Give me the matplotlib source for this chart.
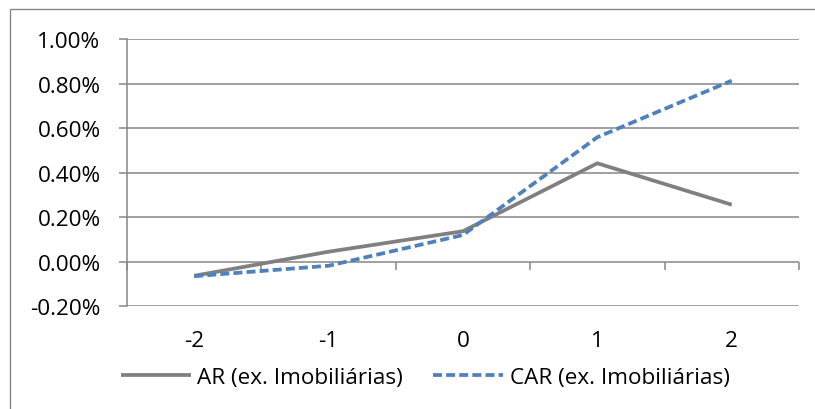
import matplotlib.pyplot as plt
from matplotlib.patches import Rectangle
from matplotlib.ticker import FuncFormatter

# event window (days) and abnormal returns in percent
days = ['-2', '-1', '0', '1', '2']
ar = [-0.063, 0.045, 0.137, 0.442, 0.256]
car = [-0.065, -0.018, 0.120, 0.559, 0.813]
yticks = [-0.2, 0.0, 0.2, 0.4, 0.6, 0.8, 1.0]

grid_color = '#868686'
plt.rcParams['font.family'] = ['Open Sans', 'DejaVu Sans']
font_size = 16.2

fig = plt.figure(figsize=(8.15, 4.1), dpi=100)
ax = fig.add_axes([0.1558, 0.2505, 0.8245, 0.652])

# outer chart frame
fig.patches.append(Rectangle((10, -20), 900, 420, transform=None,
                             fill=False, edgecolor=grid_color, linewidth=1.0))

x = range(len(days))
ax.plot(x, ar, color='#808080', linewidth=2.7, solid_capstyle='butt',
        label='AR (ex. Imobiliárias)')
ax.plot(x, car, color='#4F81BD', linewidth=2.7, linestyle=(0, (2.4, 1.1)),
        dash_capstyle='butt', label='CAR (ex. Imobiliárias)')

ax.set_xlim(-0.5, len(days) - 0.5)
ax.set_ylim(-0.2, 1.0)

for y in yticks:
    ax.axhline(y, color=grid_color, linewidth=1.1, zorder=0)

for side in ['top', 'right', 'bottom']:
    ax.spines[side].set_visible(False)
ax.spines['left'].set_color(grid_color)
ax.spines['left'].set_linewidth(1.1)

ax.set_yticks(yticks)
ax.yaxis.set_major_formatter(FuncFormatter(lambda v, p: '%.2f%%' % v))
ax.tick_params(axis='y', length=6, width=1.1, color=grid_color, pad=13,
               labelsize=font_size, labelcolor='black')

ax.set_xticks(list(x))
ax.set_xticklabels(days)
ax.tick_params(axis='x', length=0, pad=17, labelsize=font_size,
               labelcolor='black')

# category axis drawn across the zero line, ticks between categories
zero_axis = ax.secondary_xaxis(0.2 / 1.2)
zero_axis.set_xticks([i - 0.5 for i in range(len(days) + 1)])
zero_axis.set_xticklabels([])
zero_axis.spines['bottom'].set_visible(False)
zero_axis.tick_params(axis='x', direction='out', length=6, width=1.1,
                      color=grid_color)

ax.legend(loc='center', bbox_to_anchor=(0.444, -0.265), ncol=2,
          frameon=False, fontsize=font_size, handlelength=3.1,
          handletextpad=0.3, columnspacing=1.35, borderpad=0)

fig.savefig('out.png', dpi=100)
